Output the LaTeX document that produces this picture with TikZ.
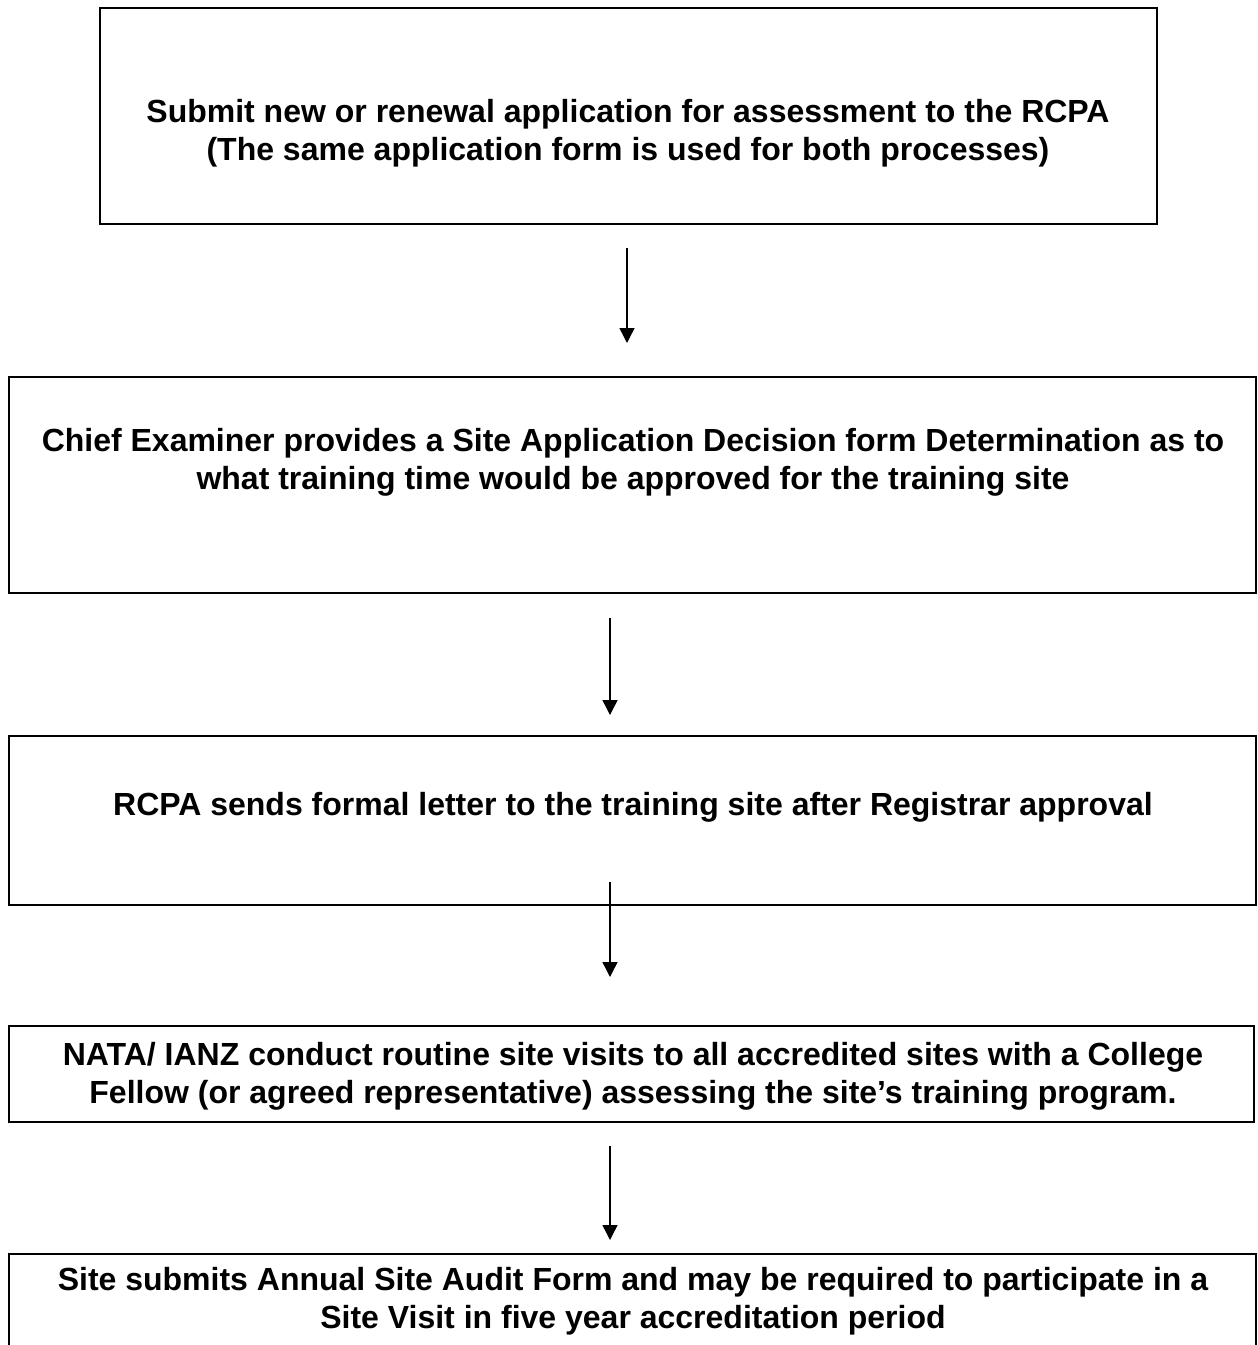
\documentclass[tikz,border=0pt]{standalone}
\usepackage{fontspec}
\setmainfont{Liberation Sans}
\usetikzlibrary{arrows.meta}

\tikzset{
	box/.style={draw, line width=0.8pt},
	txt/.style={align=center, anchor=base, inner sep=0pt,
		font=\bfseries\fontsize{16}{19}\selectfont},
	flow/.style={-{Triangle[width=7.5pt,length=7.5pt]}, line width=0.7pt},
}

\begin{document}
\begin{tikzpicture}[
	x=0.5pt,
	y=-0.5pt,
	line join=miter,
	]
\useasboundingbox (0,0) rectangle (1258,1345);
\clip (0,0) rectangle (1258,1345);
% boxes
\draw[box] (100,8) rectangle (1157,224);
\draw[box] (9,377) rectangle (1256,593);
\draw[box] (9,736) rectangle (1256,905);
\draw[box] (9,1026) rectangle (1254,1122);
\draw[box] (9,1360) -- (9,1254) -- (1256,1254) -- (1256,1360);
% texts (base = last line)
\node[txt] (apply) at (628,160) {Submit new or renewal application for assessment to the RCPA\\(The same application form is used for both processes)};
\node[txt] (decide) at (633,489) {Chief Examiner provides a Site Application Decision form Determination as to\\what training time would be approved for the training site};
\node[txt] (letter) at (633,815) {RCPA sends formal letter to the training site after Registrar approval};
\node[txt] (visit) at (633,1103) {NATA/ IANZ conduct routine site visits to all accredited sites with a College\\Fellow (or agreed representative) assessing the site’s training program.};
\node[txt] (audit) at (633,1328) {Site submits Annual Site Audit Form and may be required to participate in a\\Site Visit in five year accreditation period};
% arrows
\coordinate (s1) at (627,248);
\coordinate (e1) at (627,343);
\coordinate (s2) at (610,618);
\coordinate (e2) at (610,715);
\coordinate (s3) at (610,882);
\coordinate (e3) at (610,977);
\coordinate (s4) at (610,1146);
\coordinate (e4) at (610,1240);
\foreach \i in {1, 2, 3, 4}
	\draw[flow] (s\i) -- (e\i);
\end{tikzpicture}
\end{document}
